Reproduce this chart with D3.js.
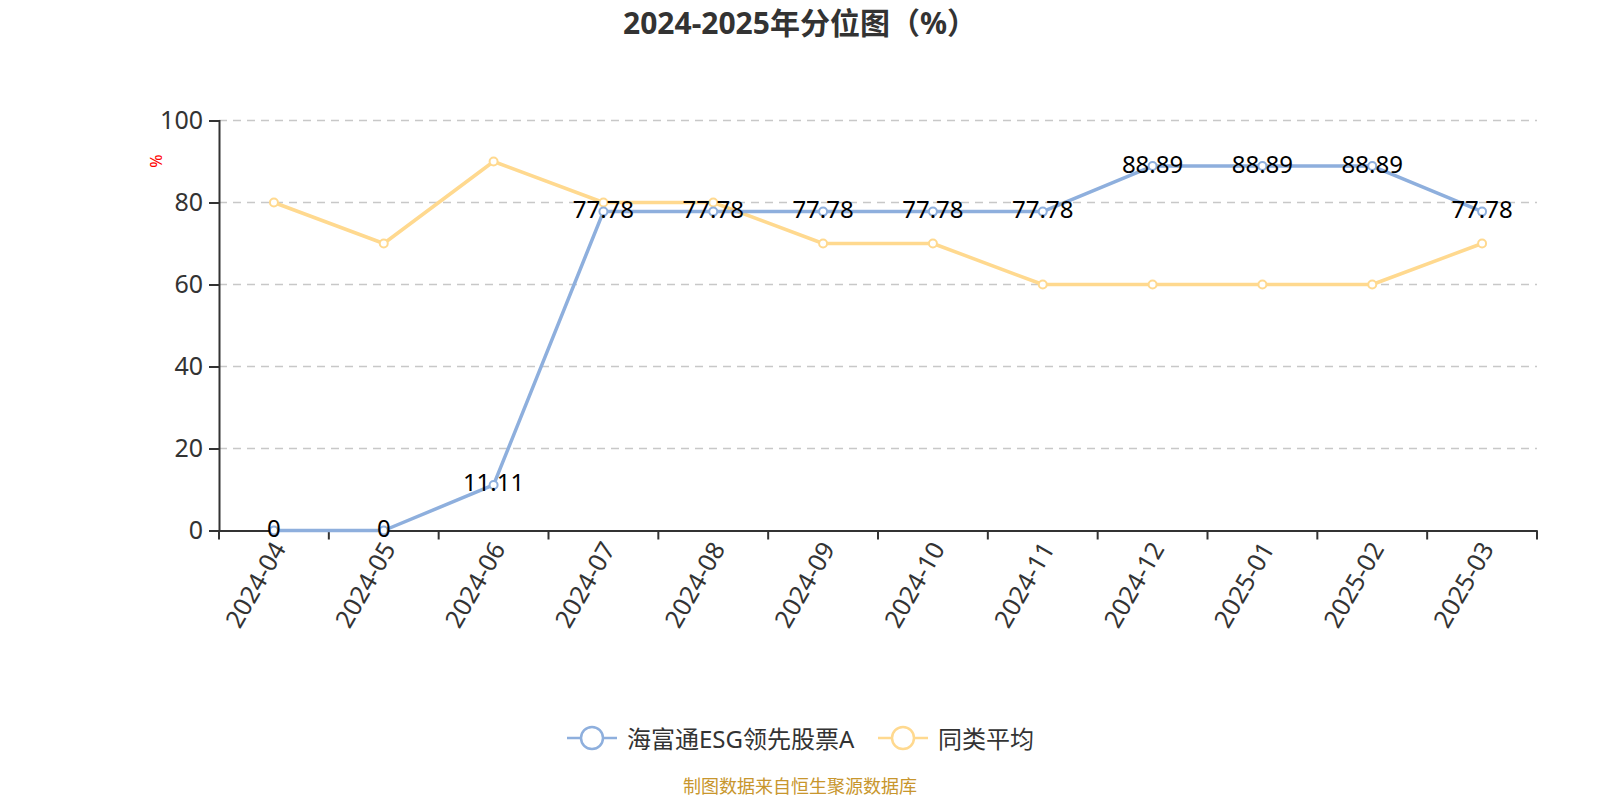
<!DOCTYPE html>
<html>
<head>
<meta charset="utf-8">
<script src="https://cdn.jsdelivr.net/npm/d3@7"></script>
<style>
  html, body { margin: 0; padding: 0; background: #fff; }
  svg { display: block; font-family: "Noto Sans", "Noto Sans CJK SC", sans-serif; }
</style>
</head>
<body>
<svg id="chart" width="1600" height="800"></svg>
<script>
const categories = ["2024-04","2024-05","2024-06","2024-07","2024-08","2024-09","2024-10","2024-11","2024-12","2025-01","2025-02","2025-03"];
const fundValues = [0, 0, 11.11, 77.78, 77.78, 77.78, 77.78, 77.78, 88.89, 88.89, 88.89, 77.78];
const peerValues = [80, 70, 90, 80, 80, 70, 70, 60, 60, 60, 60, 70];
const yTicks = [0, 20, 40, 60, 80, 100];
const seriesNames = ["海富通ESG领先股票A", "同类平均"];
const colors = ["#8eafdd", "#ffd98f"];

const svg = d3.select("#chart");
const pLeft = 219, pRight = 1537, pTop = 120.5, pBottom = 530.5;

const xBand = d3.scaleBand().domain(categories).range([pLeft, pRight]);
const x = d => xBand(d) + xBand.bandwidth() / 2;
const y = d3.scaleLinear().domain([0, 100]).range([pBottom, pTop]);

// Title
svg.append("text").attr("x", 800).attr("y", 34).attr("text-anchor", "middle")
  .attr("font-size", 30).attr("font-weight", "bold").attr("fill", "#333")
  .text("2024-2025年分位图（%）");

// Grid
svg.append("g").selectAll("line").data(yTicks.filter(t => t > 0)).join("line")
  .attr("x1", pLeft).attr("x2", pRight).attr("y1", d => y(d)).attr("y2", d => y(d))
  .attr("stroke", "#c8c8c8").attr("stroke-width", 1.5).attr("stroke-dasharray", "8,6");

// Y axis
const yAxis = svg.append("g").attr("transform", `translate(${pLeft},0)`)
  .call(d3.axisLeft(y).tickValues(yTicks).tickSize(10).tickPadding(6));
yAxis.select(".domain").attr("stroke", "#333").attr("stroke-width", 2);
yAxis.selectAll(".tick line").attr("stroke", "#333").attr("stroke-width", 2);
yAxis.selectAll(".tick text").attr("font-size", 25).attr("fill", "#333")
  .attr("font-family", "Noto Sans, sans-serif");

// X axis
const xAxis = svg.append("g").attr("transform", `translate(0,${pBottom})`)
  .call(d3.axisBottom(xBand).tickSize(0).tickPadding(0));
xAxis.select(".domain").attr("stroke", "#333").attr("stroke-width", 2);
xAxis.selectAll(".tick text").remove();
const bounds = categories.map(c => xBand(c)).concat([pRight]);
svg.append("g").selectAll("line").data(bounds).join("line")
  .attr("x1", d => d).attr("x2", d => d).attr("y1", pBottom).attr("y2", pBottom + 9)
  .attr("stroke", "#333").attr("stroke-width", 2);
svg.append("g").selectAll("text").data(categories).join("text")
  .attr("transform", d => `translate(${x(d) + 4},${pBottom + 13}) rotate(-60)`)
  .attr("text-anchor", "end").attr("dominant-baseline", "central")
  .attr("font-size", 25).attr("fill", "#333")
  .text(d => d);

// Y axis name
svg.append("text").attr("transform", "translate(156,161) rotate(-90)")
  .attr("text-anchor", "middle").attr("dominant-baseline", "central")
  .attr("font-size", 16).attr("fill", "#ff0000").text("%");

// Lines
const allSeries = [fundValues, peerValues];
const line = d3.line().x((d, i) => x(categories[i])).y(d => y(d));
[1, 0].forEach(si => {
  svg.append("path").datum(allSeries[si]).attr("d", line)
    .attr("fill", "none").attr("stroke", colors[si]).attr("stroke-width", 3.5)
    .attr("stroke-linejoin", "round");
});
[1, 0].forEach(si => {
  svg.append("g").selectAll("circle").data(allSeries[si]).join("circle")
    .attr("cx", (d, i) => x(categories[i])).attr("cy", d => y(d)).attr("r", 4)
    .attr("fill", "#fff").attr("stroke", colors[si]).attr("stroke-width", 2);
});

// Data labels (fund series)
svg.append("g").selectAll("text").data(fundValues).join("text")
  .attr("x", (d, i) => x(categories[i])).attr("y", d => y(d) - 3)
  .attr("text-anchor", "middle").attr("dominant-baseline", "central")
  .attr("font-size", 24).attr("fill", "#000")
  .text(d => d === 0 ? "0" : d.toFixed(2));

// Legend
const legendItems = [
  { name: seriesNames[0], color: colors[0], x0: 567 },
  { name: seriesNames[1], color: colors[1], x0: 878 }
];
const ly = 738;
legendItems.forEach(it => {
  const g = svg.append("g");
  g.append("line").attr("x1", it.x0).attr("x2", it.x0 + 50).attr("y1", ly).attr("y2", ly)
    .attr("stroke", it.color).attr("stroke-width", 2.5);
  g.append("circle").attr("cx", it.x0 + 25).attr("cy", ly).attr("r", 11)
    .attr("fill", "#fff").attr("stroke", it.color).attr("stroke-width", 2.5);
  g.append("text").attr("x", it.x0 + 60).attr("y", ly).attr("dominant-baseline", "central")
    .attr("font-size", 24).attr("fill", "#333").text(it.name);
});

// Footer
svg.append("text").attr("x", 800).attr("y", 786).attr("text-anchor", "middle")
  .attr("dominant-baseline", "central").attr("font-size", 18).attr("fill", "#c8962d")
  .text("制图数据来自恒生聚源数据库");
</script>
</body>
</html>
